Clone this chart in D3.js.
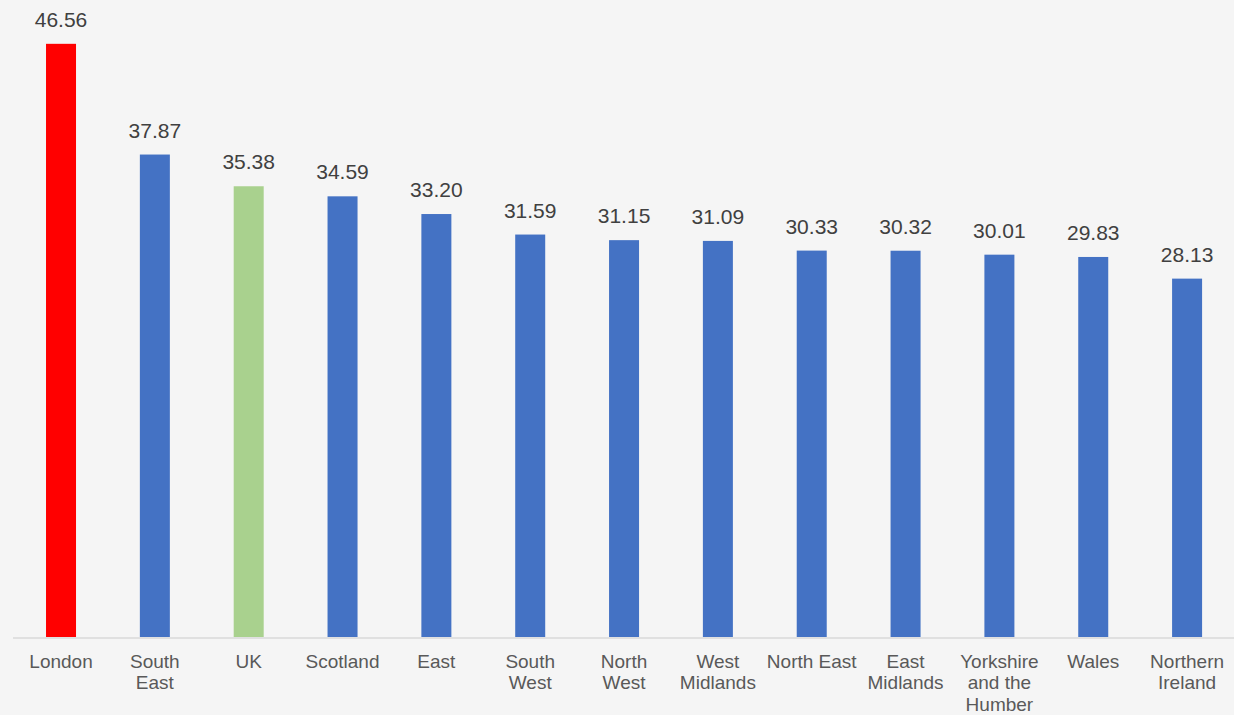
<!DOCTYPE html>
<html><head><meta charset="utf-8">
<script src="https://cdn.jsdelivr.net/npm/d3@7"></script>
<style>
html,body{margin:0;padding:0;background:#f5f5f5;}
svg{display:block;}
</style></head>
<body>
<svg id="chart" width="1234" height="715"></svg>
<script>
const categories = ["London","South East","UK","Scotland","East","South West","North West","West Midlands","North East","East Midlands","Yorkshire and the Humber","Wales","Northern Ireland"];
const labelLines = [["London"],["South","East"],["UK"],["Scotland"],["East"],["South","West"],["North","West"],["West","Midlands"],["North East"],["East","Midlands"],["Yorkshire","and the","Humber"],["Wales"],["Northern","Ireland"]];
const values = [46.56,37.87,35.38,34.59,33.20,31.59,31.15,31.09,30.33,30.32,30.01,29.83,28.13];
const barColors = ["#ff0000","#4472c4","#a9d18e","#4472c4","#4472c4","#4472c4","#4472c4","#4472c4","#4472c4","#4472c4","#4472c4","#4472c4","#4472c4"];

const svg = d3.select("#chart");
svg.append("rect").attr("width",1234).attr("height",715).attr("fill","#f5f5f5");

const x = d3.scaleBand().domain(categories).range([14.1, 1234]).padding(0);
const y = d3.scaleLinear().domain([0, 50]).range([637, 0]);
const barW = 30;

svg.selectAll("rect.bar").data(values).join("rect")
  .attr("class","bar")
  .attr("x",(d,i)=>x(categories[i]) + x.bandwidth()/2 - barW/2)
  .attr("y",d=>y(d))
  .attr("width",barW)
  .attr("height",d=>y(0)-y(d))
  .attr("fill",(d,i)=>barColors[i]);

svg.selectAll("text.val").data(values).join("text")
  .attr("class","val")
  .attr("x",(d,i)=>x(categories[i]) + x.bandwidth()/2)
  .attr("y",d=>y(d)-17)
  .attr("text-anchor","middle")
  .attr("font-family","'Liberation Sans', Arial, sans-serif")
  .attr("font-size","21px")
  .attr("fill","#404040")
  .text(d=>d.toFixed(2));

svg.append("line")
  .attr("x1",13).attr("x2",1234)
  .attr("y1",y(0)+1).attr("y2",y(0)+1)
  .attr("stroke","#d9d9d9").attr("stroke-width",1.5);

const lab = svg.selectAll("text.cat").data(categories).join("text")
  .attr("class","cat")
  .attr("x",d=>x(d)+x.bandwidth()/2)
  .attr("y",667.5)
  .attr("text-anchor","middle")
  .attr("font-family","'Liberation Sans', Arial, sans-serif")
  .attr("font-size","19px")
  .attr("fill","#595959");
lab.each(function(d,i){
  const t = d3.select(this);
  labelLines[i].forEach((ln,j)=>{
    t.append("tspan").attr("x",x(d)+x.bandwidth()/2).attr("dy", j===0?0:21.8).text(ln);
  });
});
</script>
</body></html>
